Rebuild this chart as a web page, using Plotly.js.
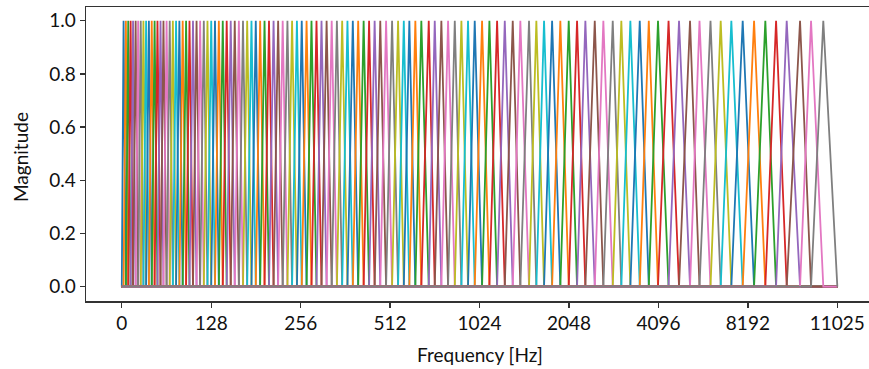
<!DOCTYPE html>
<html>
<head>
<meta charset="utf-8">
<script src="https://cdn.plot.ly/plotly-3.0.1.min.js"></script>
<style>html,body{margin:0;padding:0;background:#fff;}#chart{width:869px;height:369px;}</style>
</head>
<body>
<div id="chart"></div>
<script>
// Filter centre positions (in tick-slot units: 0 = "0" tick, 8 = "11025" tick)
const centers = [
0.020,0.046,0.072,0.099,0.126,0.155,0.183,0.212,0.242,0.272,
0.303,0.335,0.367,0.399,0.433,0.466,0.501,0.536,0.571,0.607,
0.644,0.681,0.719,0.757,0.796,0.836,0.876,0.917,0.958,1.000,
1.042,1.085,1.129,1.173,1.218,1.263,1.309,1.355,1.402,1.450,
1.498,1.547,1.596,1.646,1.697,1.748,1.799,1.852,1.904,1.958,
2.012,2.066,2.121,2.177,2.233,2.290,2.347,2.405,2.464,2.523,
2.583,2.643,2.704,2.765,2.827,2.890,2.955,3.022,3.089,3.153,
3.215,3.282,3.349,3.432,3.499,3.573,3.648,3.723,3.797,3.871,
3.946,4.028,4.110,4.196,4.282,4.371,4.456,4.553,4.635,4.721,
4.811,4.903,4.997,5.090,5.183,5.288,5.384,5.489,5.585,5.686,
5.791,5.892,5.995,6.113,6.230,6.353,6.459,6.582,6.696,6.815,
6.942,7.069,7.195,7.315,7.434,7.583,7.706,7.843
];
const lowEdge = 0;
const highEdge = 8;
const tickLabels = ['0','128','256','512','1024','2048','4096','8192','11025'];
const yTicks = [0, 0.2, 0.4, 0.6, 0.8, 1.0];
const colors = ['#1f77b4','#ff7f0e','#2ca02c','#d62728','#9467bd','#8c564b','#e377c2','#7f7f7f','#bcbd22','#17becf'];

const traces = centers.map((c, k) => {
  const left = k === 0 ? lowEdge : centers[k-1];
  const right = k === centers.length - 1 ? highEdge : centers[k+1];
  return {
    type: 'scatter', mode: 'lines',
    x: [lowEdge, left, c, right, highEdge],
    y: [0, 0, 1, 0, 0],
    line: {color: colors[k % 10], width: 1.8},
    hoverinfo: 'skip', showlegend: false
  };
});

const fam = 'Lato, "Open Sans", sans-serif';
const tickFont = {family: fam, size: 19, color: '#111'};
const layout = {
  width: 869, height: 369,
  margin: {l: 86, r: 0, t: 7, b: 68},
  paper_bgcolor: '#fff', plot_bgcolor: '#fff',
  showlegend: false,
  xaxis: {
    range: [-0.4, 8.354],
    tickvals: tickLabels.map((_, i) => i),
    ticktext: tickLabels,
    showgrid: false, zeroline: false,
    showline: true, mirror: true, linecolor: '#333', linewidth: 1.5,
    ticks: 'outside', ticklen: 5, tickwidth: 1.3, tickcolor: '#333',
    tickfont: tickFont
  },
  yaxis: {
    range: [-0.054, 1.0515],
    tickvals: yTicks,
    ticktext: yTicks.map(v => v.toFixed(1)),
    showgrid: false, zeroline: false,
    showline: true, linecolor: '#333', linewidth: 1.5,
    ticks: 'outside', ticklen: 5, tickwidth: 1.3, tickcolor: '#333',
    tickfont: tickFont
  },
  annotations: [
    {text: 'Frequency [Hz]', xref: 'x', x: 4, yref: 'paper', y: 0, yanchor: 'middle',
     yshift: -53, showarrow: false, font: {family: fam, size: 19, color: '#111'}},
    {text: 'Magnitude', xref: 'paper', x: 0, xanchor: 'center', xshift: -66, yref: 'paper', y: 0.5,
     yanchor: 'middle', yshift: -3, textangle: -90, showarrow: false,
     font: {family: fam, size: 19, color: '#111'}}
  ]
};
Plotly.newPlot('chart', traces, layout, {displayModeBar: false, staticPlot: true});
</script>
</body>
</html>
